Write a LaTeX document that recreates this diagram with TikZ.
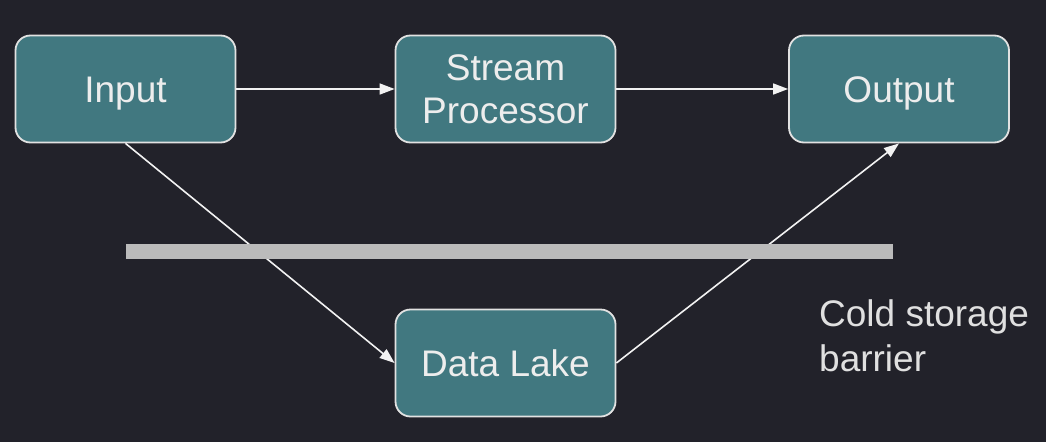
\documentclass[tikz,border=0pt]{standalone}
\usepackage{fontspec}
\setmainfont{Liberation Sans}
\usetikzlibrary{arrows.meta}
\definecolor{bgdark}{HTML}{22222A}
\definecolor{boxteal}{HTML}{417880}
\definecolor{boxline}{HTML}{E2E2E2}
\definecolor{barrgray}{HTML}{BBBBBB}

\begin{document}
\begin{tikzpicture}[x=1pt, y=-1pt]
    % boxes of the pipeline
    \tikzstyle{stage}=[draw=boxline, line width=1.8pt, fill=boxteal, rounded corners=15pt,
        minimum width=220pt, minimum height=107pt, inner sep=0, align=center,
        text=white!93!black, font=\fontsize{37}{43}\selectfont]
    % single line labels: centre on the capitals
    \tikzstyle{oneline}=[text height=26.5pt, text depth=0pt]
    % connectors
    \tikzstyle{flow}=[draw=white!95!black, line width=1.6pt, -{Triangle[length=15pt, width=11pt]}]
    \fill[bgdark] (0,0) rectangle (1046,442);
    \useasboundingbox (0,0) rectangle (1046,442);
    \node[stage, oneline] (input) at (125.5,89) {Input};
    \node[stage] (stream) at (505.5,89) {Stream\\Processor};
    \node[stage, oneline] (output) at (899,89) {Output};
    \node[stage, oneline] (lake) at (505.5,363) {Data Lake};
    \draw[flow] (input) -- (stream);
    \draw[flow] (stream) -- (output);
    \draw[flow] (input.south) -- (lake.west);
    \draw[flow] (lake.east) -- (output.south);
    % the barrier sits over the two slanted lines
    \fill[barrgray] (126,244) rectangle (893,259);
    \node[anchor=north west, inner sep=0, align=left, text=white!88!black,
        font=\fontsize{37}{45}\selectfont] (barrier) at (819,299) {Cold storage\\barrier};
\end{tikzpicture}
\end{document}
